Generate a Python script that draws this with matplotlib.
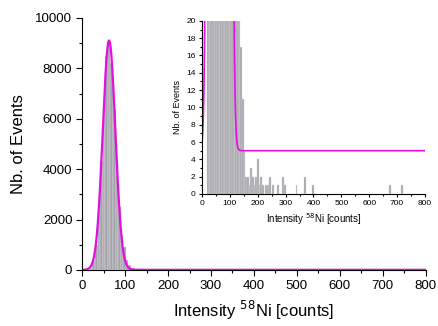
import numpy as np
import matplotlib
matplotlib.use('Agg')
import matplotlib.pyplot as plt
from matplotlib.ticker import MultipleLocator

plt.rcParams['font.family'] = ['Liberation Sans', 'DejaVu Sans']

# histogram bins (width 6 counts), centres and number of events
bin_width = 6
bin_centers = [21, 27, 33, 39, 45, 51, 57, 63, 69, 75, 81, 87, 93, 99, 105, 111,
               117, 123, 129, 135, 141, 147, 153, 159, 165, 171, 177, 183, 189,
               195, 201, 207, 213, 219, 231, 237, 243, 255, 273, 291, 297, 339,
               369, 399, 675, 717]
events = [60, 350, 1000, 2300, 4300, 6600, 8500, 9000, 8200, 6400, 4300, 2500,
          1400, 900, 380, 180, 90, 50, 30, 25, 17, 11, 5, 2, 2, 1, 3, 2, 1,
          2, 4, 1, 2, 1, 1, 1, 2, 1, 1, 2, 1, 1,
          2, 1, 1, 1]

# gaussian fit parameters: y0 + A*exp(-(x-xc)^2 / (2 w^2))
fit_y0 = 5.0
fit_A = 9100.0
fit_xc = 62.8
fit_w = 14.7

bar_color = '#a3a3ab'
fit_color = '#e010e0'

xfit = np.linspace(0, 800, 1601)
yfit = fit_y0 + fit_A * np.exp(-(xfit - fit_xc) ** 2 / (2 * fit_w ** 2))

fig = plt.figure(figsize=(4.39, 3.26), dpi=100)

def style_axes(ax, size, major_len, minor_len, pad):
    ax.spines['top'].set_visible(False)
    ax.spines['right'].set_visible(False)
    ax.tick_params(which='both', direction='out', labelsize=size, width=0.8, pad=pad)
    ax.tick_params(which='major', length=major_len)
    ax.tick_params(which='minor', length=minor_len)

# main axes
ax = fig.add_axes([0.187, 0.172, 0.783, 0.773])
ax.bar(bin_centers, events, width=bin_width, color=bar_color, edgecolor='#e2e2e2',
       linewidth=0.3)
ax.plot(xfit, yfit, color=fit_color, lw=1.6)
ax.set_xlim(0, 800)
ax.set_ylim(0, 10000)
ax.xaxis.set_major_locator(MultipleLocator(100))
ax.xaxis.set_minor_locator(MultipleLocator(50))
ax.yaxis.set_major_locator(MultipleLocator(2000))
ax.yaxis.set_minor_locator(MultipleLocator(1000))
style_axes(ax, 9.5, 4, 2.5, 3)
ax.set_xlabel('Intensity $^{58}$Ni [counts]', fontsize=12, labelpad=5)
ax.set_ylabel('Nb. of Events', fontsize=12, labelpad=7)

# inset
ins = fig.add_axes([0.460, 0.405, 0.508, 0.531])
ins.bar(bin_centers, events, width=bin_width, color=bar_color, edgecolor='#dadada',
        linewidth=0.3)
ins.plot(xfit, yfit, color=fit_color, lw=1.2)
ins.set_xlim(0, 800)
ins.set_ylim(0, 20)
ins.xaxis.set_major_locator(MultipleLocator(100))
ins.xaxis.set_minor_locator(MultipleLocator(50))
ins.yaxis.set_major_locator(MultipleLocator(2))
ins.yaxis.set_minor_locator(MultipleLocator(1))
style_axes(ins, 6, 2.5, 1.5, 2)
ins.set_xlabel('Intensity $^{58}$Ni [counts]', fontsize=7, labelpad=3)
ins.set_ylabel('Nb. of Events', fontsize=6.5, labelpad=3)

fig.savefig('out.png', dpi=100)
